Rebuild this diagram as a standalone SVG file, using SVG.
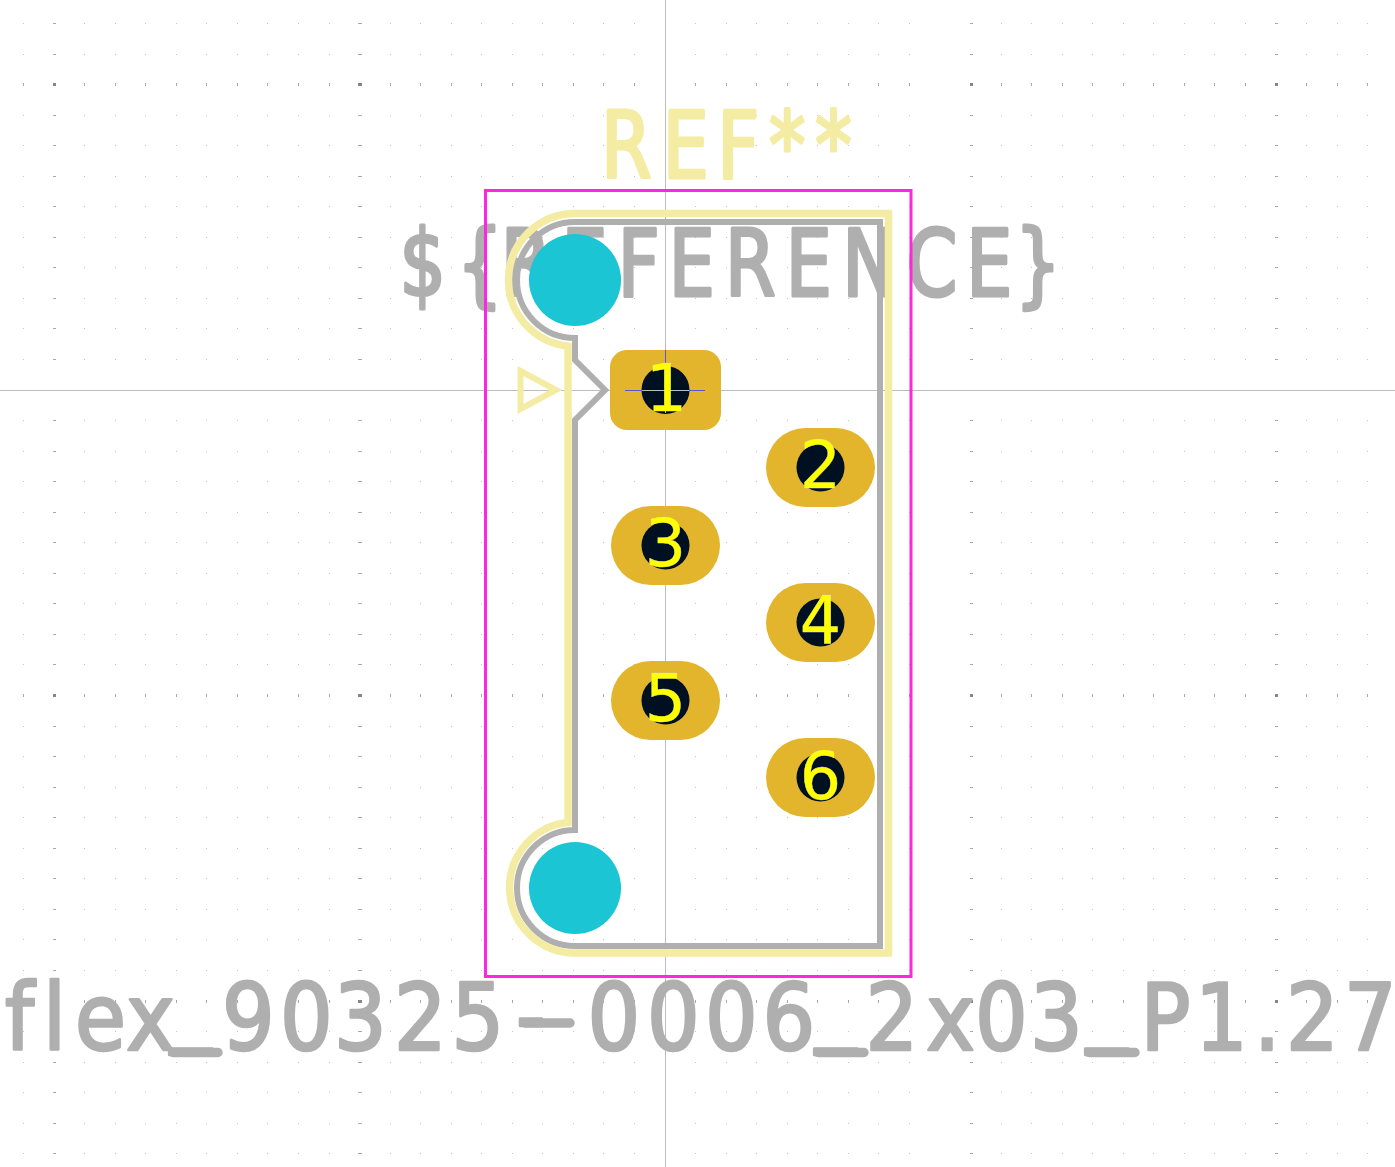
<svg xmlns="http://www.w3.org/2000/svg" width="1395" height="1167" viewBox="0 0 1395 1167">
<style>
.grid{fill:none;shape-rendering:crispEdges}
.minor{stroke:#c4c4c4;stroke-width:1;stroke-dasharray:1 29.55}
.mcol{stroke:#a8a8a8;stroke-width:1;stroke-dasharray:3 302.5}
.mrow{stroke:#a8a8a8;stroke-width:3;stroke-dasharray:1 29.55}
.mmaj{stroke:#868686;stroke-width:3;stroke-dasharray:3 302.5}
.axis{stroke:#bcbcbc;stroke-width:1;shape-rendering:crispEdges}
.big{font-family:"DejaVu Sans",sans-serif;font-stretch:condensed;font-size:92px;stroke-width:2.6;stroke-linejoin:round}
.narrow{stroke-width:3.2}
.gray{fill:#afafaf;stroke:#afafaf}
.silk{fill:#f3eca2;stroke:#f3eca2}
.ext{fill:none;stroke:#afafaf;stroke-width:9.5;stroke-linecap:round}
.out{fill:none;stroke-linejoin:miter}
.pad{fill:#e2b52c}
.drill{fill:#001023}
.hole{fill:#1bc5d4}
.num{font-family:"DejaVu Sans",sans-serif;font-size:65px;text-anchor:middle;fill:#ffff00;stroke:#c8c8c0;stroke-width:.5;paint-order:stroke}
.cross{stroke:#5b55d6;stroke-width:1;shape-rendering:crispEdges}
</style>
<rect width="1395" height="1167" fill="#ffffff"/>
<g id="grid">
<path class="grid minor" d="M23 23.5H1395M23 54.5H1395M23 115.5H1395M23 145.5H1395M23 176.5H1395M23 206.5H1395M23 237.5H1395M23 267.5H1395M23 298.5H1395M23 328.5H1395M23 359.5H1395M23 420.5H1395M23 451.5H1395M23 481.5H1395M23 512.5H1395M23 542.5H1395M23 573.5H1395M23 603.5H1395M23 634.5H1395M23 664.5H1395M23 726.5H1395M23 756.5H1395M23 787.5H1395M23 817.5H1395M23 848.5H1395M23 878.5H1395M23 909.5H1395M23 939.5H1395M23 970.5H1395M23 1031.5H1395M23 1062.5H1395M23 1092.5H1395M23 1123.5H1395M23 1153.5H1395"/>
<path class="grid mcol" d="M53 23.5H600M53 54.5H600M53 115.5H600M53 145.5H600M53 176.5H600M53 206.5H600M53 237.5H600M53 267.5H600M53 298.5H600M53 328.5H600M53 359.5H600M53 420.5H600M53 451.5H600M53 481.5H600M53 512.5H600M53 542.5H600M53 573.5H600M53 603.5H600M53 634.5H600M53 664.5H600M53 726.5H600M53 756.5H600M53 787.5H600M53 817.5H600M53 848.5H600M53 878.5H600M53 909.5H600M53 939.5H600M53 970.5H600M53 1031.5H600M53 1062.5H600M53 1092.5H600M53 1123.5H600M53 1153.5H600"/>
<path class="grid mcol" d="M969.5 23.5H1395M969.5 54.5H1395M969.5 115.5H1395M969.5 145.5H1395M969.5 176.5H1395M969.5 206.5H1395M969.5 237.5H1395M969.5 267.5H1395M969.5 298.5H1395M969.5 328.5H1395M969.5 359.5H1395M969.5 420.5H1395M969.5 451.5H1395M969.5 481.5H1395M969.5 512.5H1395M969.5 542.5H1395M969.5 573.5H1395M969.5 603.5H1395M969.5 634.5H1395M969.5 664.5H1395M969.5 726.5H1395M969.5 756.5H1395M969.5 787.5H1395M969.5 817.5H1395M969.5 848.5H1395M969.5 878.5H1395M969.5 909.5H1395M969.5 939.5H1395M969.5 970.5H1395M969.5 1031.5H1395M969.5 1062.5H1395M969.5 1092.5H1395M969.5 1123.5H1395M969.5 1153.5H1395"/>
<path class="grid mrow" d="M23 84.5H1395M23 695.5H1395M23 1001.5H1395"/>
<path class="grid mmaj" d="M53 84.5H600M53 695.5H600M53 1001.5H600M969.5 84.5H1395M969.5 695.5H1395M969.5 1001.5H1395"/>
</g>
<g id="axes">
<path class="axis" d="M0 390.5H1395M665.5 0V1167"/>
</g>
<g id="ref-text">
<text class="big narrow silk" transform="scale(.88 1)" x="683 753 815 874 926.5" y="178">REF**</text>
</g>
<g id="value-text">
<text class="big narrow gray" transform="scale(.88 1)" x="454 519 569 638 702 760 824 893 957 1030 1098 1153" y="296">${REFERENCE}</text>
</g>
<g id="footprint-name">
<text class="big gray" x="5 43 75 126 170 222 280 334 394 451.5 516 587.5 647 705 762.5 815 865.5 926 975 1030 1086 1140.5 1195 1254 1286 1344" y="1050 1050 1050 1050 1033 1050 1050 1050 1050 1050 1048 1050 1050 1050 1050 1033 1050 1050 1050 1050 1033 1050 1050 1050 1050 1050">flex_90325-0006_2x03_P1.27</text>
<path class="ext" d="M525 1023H570M173 1052.5H218M818 1052.5H864M1089 1052.5H1135"/>
</g>
<g id="fab-outline">
<path class="out" stroke="#afafaf" stroke-width="6" d="M880 222H575A58 58 0 0 0 575 338V360L605 390L575 420V830A58 58 0 0 0 575 946H880Z"/>
</g>
<g id="silk-outline">
<path class="out" stroke="#f3eca2" stroke-width="7.5" d="M888.5 213.5H575A66.5 66.5 0 0 0 568 346.13V822.38A65.5 65.5 0 0 0 575 953H888.5Z"/>
<path class="out" stroke="#f3eca2" stroke-width="6" stroke-linejoin="round" d="M520.5 371L556 390L520.5 409Z"/>
</g>
<g id="courtyard">
<path fill="none" stroke="#ff26e2" stroke-width="3" d="M485.5 190.5H911V976.5H485.5Z"/>
</g>
<g id="mounting-hole-1"><circle class="hole" cx="575" cy="280" r="46"/></g>
<g id="mounting-hole-2"><circle class="hole" cx="575" cy="888" r="46"/></g>
<g id="pad-1">
<rect class="pad" x="610" y="350" width="111" height="80" rx="17"/>
<circle class="drill" cx="665.5" cy="390" r="24"/>
<path class="cross" d="M625 390.5H705M665.5 350V378"/>
<path class="axis" d="M642 390.5H689M665.5 378V413"/>
<text class="num" x="666.5" y="411">1</text>
</g>
<g id="pad-2">
<rect class="pad" x="766" y="428" width="109" height="79" rx="39.5"/>
<circle class="drill" cx="820.5" cy="467.5" r="24"/>
<text class="num" x="820.5" y="488">2</text>
</g>
<g id="pad-3">
<rect class="pad" x="611" y="506" width="109" height="79" rx="39.5"/>
<circle class="drill" cx="665.5" cy="545.5" r="24"/>
<text class="num" x="665.5" y="566">3</text>
</g>
<g id="pad-4">
<rect class="pad" x="766" y="583" width="109" height="79" rx="39.5"/>
<circle class="drill" cx="820.5" cy="622.5" r="24"/>
<text class="num" x="820.5" y="643">4</text>
</g>
<g id="pad-5">
<rect class="pad" x="611" y="661" width="109" height="79" rx="39.5"/>
<circle class="drill" cx="665.5" cy="700.5" r="24"/>
<text class="num" x="665.5" y="721">5</text>
</g>
<g id="pad-6">
<rect class="pad" x="766" y="738" width="109" height="79" rx="39.5"/>
<circle class="drill" cx="820.5" cy="777.5" r="24"/>
<text class="num" x="820.5" y="799">6</text>
</g>
</svg>
